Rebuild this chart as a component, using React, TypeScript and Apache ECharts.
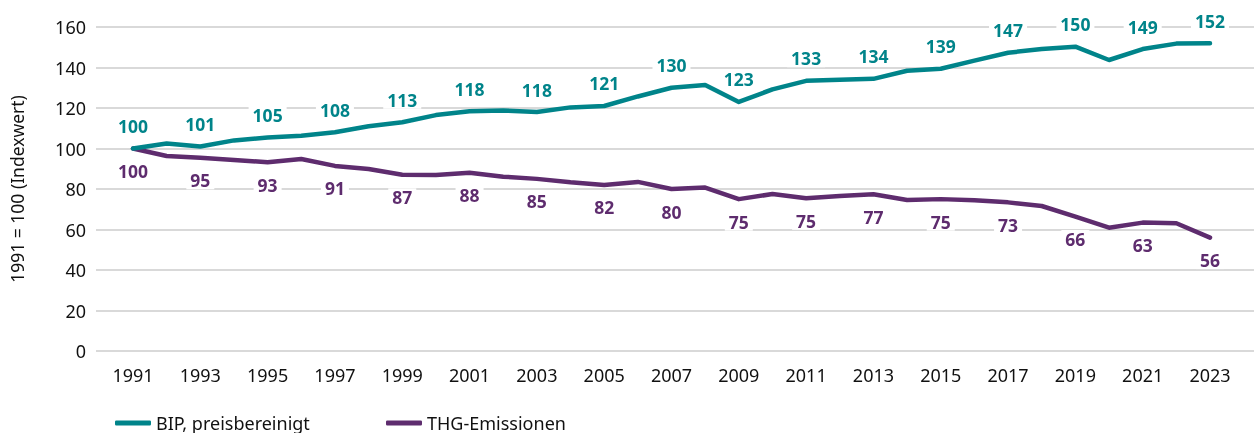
import React, { useEffect, useRef } from "react";
import * as echarts from "echarts";

const years = [
  "1991","1992","1993","1994","1995","1996","1997","1998","1999","2000","2001",
  "2002","2003","2004","2005","2006","2007","2008","2009","2010","2011","2012",
  "2013","2014","2015","2016","2017","2018","2019","2020","2021","2022","2023",
];
const bip = [
  100, 102.5, 101, 104, 105.4, 106.3, 108, 111, 113, 116.5, 118.4,
  118.8, 118, 120.3, 121, 125.7, 130, 131.4, 123, 129.2, 133.4, 134,
  134.4, 138.4, 139.4, 143.4, 147.3, 149.1, 150.3, 143.7, 149.1, 151.8, 152,
];
const thg = [
  100, 96.3, 95.4, 94.3, 93.2, 94.8, 91.4, 89.9, 87, 86.9, 88,
  86.1, 85, 83.3, 82, 83.5, 80, 80.7, 75, 77.5, 75.4, 76.5,
  77.4, 74.6, 75, 74.5, 73.4, 71.6, 66.4, 60.9, 63.4, 63.1, 56,
];
const yTicks = { min: 0, max: 160, interval: 20 };
const seriesNames = ["BIP, preisbereinigt", "THG-Emissionen"];

const TEAL = "#00848A";
const PURPLE = "#5E2C6E";
const FONT = "Noto Sans";

export default function App() {
  const ref = useRef<HTMLDivElement>(null);
  useEffect(() => {
    const chart = echarts.init(ref.current!, null, { renderer: "svg" });
    const mk = (vals: number[]) =>
      vals.map((v, i) => ({ value: v, label: { show: i % 2 === 0 } }));
    const labelBase = {
      show: false,
      fontFamily: FONT,
      fontWeight: "bold" as const,
      fontSize: 17.5,
      backgroundColor: "#fff",
      padding: [0, 4],
      distance: 13,
      formatter: (p: any) => String(Math.round(p.value)),
    };
    const legendBase = {
      top: 408,
      icon: "roundRect",
      itemWidth: 36,
      itemHeight: 5,
      textStyle: { fontFamily: FONT, fontSize: 18, lineHeight: 20, color: "#111" },
    };
    chart.setOption({
      animation: false,
      textStyle: { fontFamily: FONT },
      grid: [
        { left: 96, right: 0, top: 27, bottom: 82 },
        { left: 133, right: 44, top: 27, bottom: 82 },
      ],
      legend: [
        { ...legendBase, data: [seriesNames[0]], left: 110 },
        { ...legendBase, data: [seriesNames[1]], left: 381 },
      ],
      xAxis: [
        { type: "value", gridIndex: 0, show: false, min: 0, max: 1 },
        {
          type: "category",
          gridIndex: 1,
          data: years,
          boundaryGap: false,
          axisLine: { show: false },
          axisTick: { show: false },
          axisLabel: {
            interval: 1,
            margin: 15,
            fontFamily: FONT,
            fontSize: 18,
            color: "#111",
          },
        },
      ],
      yAxis: [
        {
          type: "value",
          gridIndex: 0,
          min: yTicks.min,
          max: yTicks.max,
          interval: yTicks.interval,
          name: "1991 = 100 (Indexwert)",
          nameLocation: "middle",
          nameGap: 70,
          nameTextStyle: { fontFamily: FONT, fontSize: 17.5, color: "#111" },
          axisLine: { show: false },
          axisTick: { show: false },
          axisLabel: { margin: 10, fontFamily: FONT, fontSize: 18, color: "#111" },
          splitLine: { lineStyle: { color: "#D9D9D9", width: 2 } },
        },
        {
          type: "value",
          gridIndex: 1,
          min: yTicks.min,
          max: yTicks.max,
          interval: yTicks.interval,
          show: false,
          splitLine: { show: false },
        },
      ],
      series: [
        {
          name: seriesNames[0],
          type: "line",
          xAxisIndex: 1,
          yAxisIndex: 1,
          data: mk(bip),
          symbol: "circle",
          symbolSize: 1,
          showSymbol: true,
          itemStyle: { color: TEAL },
          color: TEAL,
          z: 3,
          lineStyle: { width: 4.5, color: TEAL, cap: "round", join: "round" },
          label: { ...labelBase, position: "top", color: TEAL },
        },
        {
          name: seriesNames[1],
          type: "line",
          xAxisIndex: 1,
          yAxisIndex: 1,
          data: mk(thg),
          symbol: "circle",
          symbolSize: 1,
          showSymbol: true,
          itemStyle: { color: PURPLE },
          color: PURPLE,
          z: 2,
          lineStyle: { width: 4.5, color: PURPLE, cap: "round", join: "round" },
          label: { ...labelBase, position: "bottom", color: PURPLE },
        },
      ],
    });
    return () => chart.dispose();
  }, []);
  return (
    <div
      ref={ref}
      style={{ position: "fixed", left: 0, top: 0, width: 1254, height: 433 }}
    />
  );
}
